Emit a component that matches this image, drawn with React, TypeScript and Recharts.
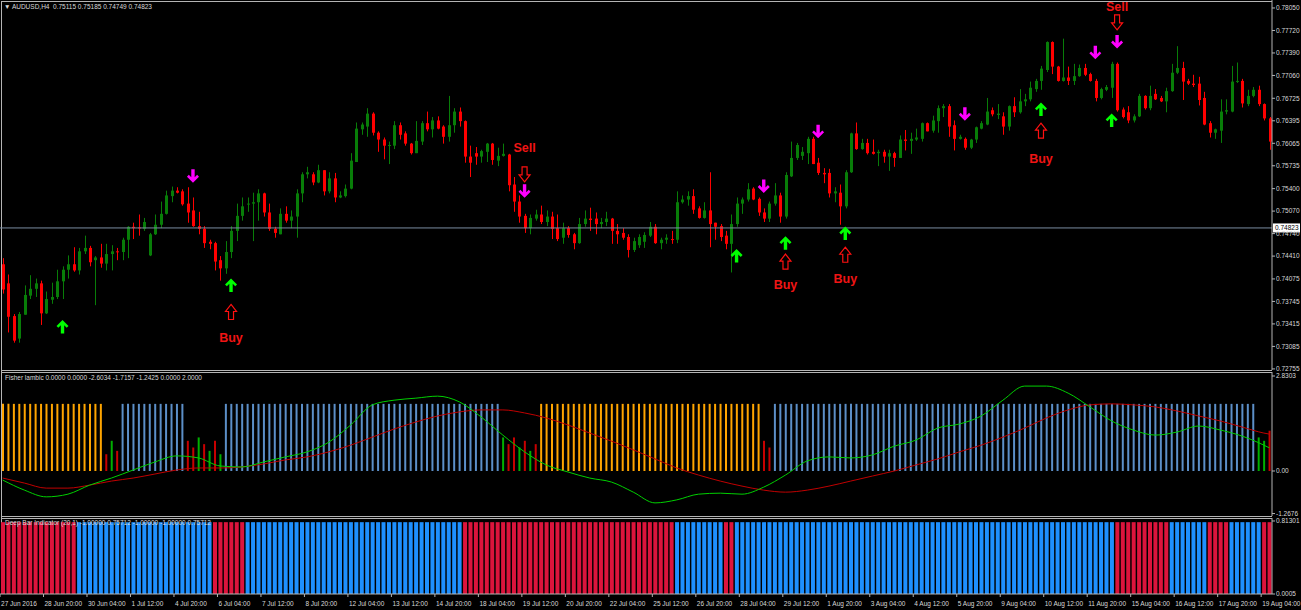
import React from 'react';
import { ComposedChart, Bar, Line, Scatter, XAxis, YAxis, ReferenceLine, Cell } from 'recharts';

const FONT = '"Liberation Sans", Arial, Helvetica, sans-serif';
const FS = 6.5;
const TEXT_COL = '#d8d8d8';
const FRAME = '#b4b4b4';
const W = 1301;
const AXIS_W = 29;
const CANDLE_UP = '#087d08';
const CANDLE_DN = '#ff0000';

// ---------- price candles (AUDUSD H4) ----------
const openP = [
0.7429,0.7401,0.7353,0.7320,0.7355,0.7383,0.7393,0.7401,0.7357,0.7377,
0.7381,0.7404,0.7421,0.7429,0.7420,0.7448,0.7453,0.7435,0.7439,0.7430,
0.7444,0.7448,0.7447,0.7465,0.7484,0.7483,0.7481,0.7442,0.7473,0.7487,
0.7503,0.7529,0.7537,0.7536,0.7518,0.7508,0.7485,0.7481,0.7462,0.7460,
0.7435,0.7423,0.7447,0.7478,0.7500,0.7517,0.7518,0.7520,0.7533,0.7505,
0.7481,0.7473,0.7503,0.7493,0.7499,0.7533,0.7561,0.7561,0.7549,0.7567,
0.7536,0.7555,0.7527,0.7529,0.7540,0.7579,0.7627,0.7631,0.7650,0.7622,
0.7612,0.7603,0.7603,0.7633,0.7621,0.7606,0.7592,0.7609,0.7636,0.7627,
0.7640,0.7631,0.7616,0.7633,0.7653,0.7639,0.7587,0.7592,0.7587,0.7594,
0.7606,0.7581,0.7588,0.7590,0.7546,0.7521,0.7500,0.7482,0.7496,0.7502,
0.7491,0.7499,0.7482,0.7468,0.7482,0.7473,0.7460,0.7488,0.7496,0.7496,
0.7488,0.7491,0.7496,0.7478,0.7475,0.7469,0.7450,0.7457,0.7462,0.7471,
0.7484,0.7460,0.7465,0.7466,0.7465,0.7520,0.7524,0.7529,0.7511,0.7497,
0.7508,0.7490,0.7485,0.7471,0.7459,0.7488,0.7518,0.7524,0.7540,0.7525,
0.7505,0.7496,0.7518,0.7530,0.7499,0.7558,0.7585,0.7588,0.7592,0.7613,
0.7578,0.7563,0.7563,0.7533,0.7534,0.7514,0.7564,0.7621,0.7598,0.7607,
0.7594,0.7592,0.7594,0.7587,0.7592,0.7585,0.7612,0.7610,0.7612,0.7613,
0.7636,0.7625,0.7639,0.7658,0.7661,0.7633,0.7613,0.7613,0.7600,0.7612,
0.7628,0.7634,0.7655,0.7648,0.7646,0.7631,0.7661,0.7652,0.7668,0.7671,
0.7686,0.7698,0.7714,0.7755,0.7719,0.7698,0.7703,0.7698,0.7705,0.7717,
0.7708,0.7698,0.7673,0.7685,0.7688,0.7723,0.7656,0.7652,0.7640,0.7646,
0.7676,0.7658,0.7679,0.7673,0.7668,0.7683,0.7710,0.7717,0.7698,0.7694,
0.7694,0.7673,0.7636,0.7622,0.7625,0.7653,0.7653,0.7697,0.7698,0.7664,
0.7676,0.7685,0.7664,0.7643];

const highP = [
0.7438,0.7414,0.7356,0.7359,0.7398,0.7413,0.7408,0.7405,0.7389,0.7402,
0.7421,0.7426,0.7442,0.7454,0.7453,0.7471,0.7456,0.7441,0.7459,0.7459,
0.7457,0.7453,0.7468,0.7485,0.7490,0.7502,0.7497,0.7475,0.7502,0.7521,
0.7537,0.7543,0.7542,0.7539,0.7542,0.7527,0.7506,0.7485,0.7465,0.7462,
0.7441,0.7463,0.7485,0.7518,0.7527,0.7527,0.7534,0.7539,0.7534,0.7518,
0.7484,0.7511,0.7514,0.7508,0.7539,0.7564,0.7572,0.7564,0.7575,0.7567,
0.7564,0.7563,0.7536,0.7546,0.7592,0.7637,0.7637,0.7658,0.7652,0.7624,
0.7615,0.7609,0.7639,0.7637,0.7624,0.7607,0.7639,0.7639,0.7653,0.7645,
0.7646,0.7633,0.7676,0.7658,0.7659,0.7640,0.7603,0.7601,0.7597,0.7607,
0.7607,0.7600,0.7606,0.7591,0.7557,0.7530,0.7503,0.7502,0.7509,0.7515,
0.7508,0.7506,0.7502,0.7490,0.7485,0.7475,0.7497,0.7508,0.7512,0.7505,
0.7497,0.7506,0.7497,0.7488,0.7482,0.7473,0.7468,0.7473,0.7476,0.7491,
0.7488,0.7468,0.7473,0.7478,0.7536,0.7530,0.7536,0.7539,0.7514,0.7520,
0.7564,0.7490,0.7488,0.7478,0.7502,0.7527,0.7527,0.7548,0.7542,0.7527,
0.7511,0.7521,0.7548,0.7534,0.7564,0.7609,0.7607,0.7601,0.7616,0.7616,
0.7585,0.7570,0.7569,0.7542,0.7546,0.7567,0.7622,0.7637,0.7613,0.7613,
0.7612,0.7597,0.7597,0.7597,0.7594,0.7618,0.7626,0.7622,0.7628,0.7637,
0.7637,0.7647,0.7662,0.7664,0.7664,0.7640,0.7619,0.7615,0.7613,0.7631,
0.7639,0.7673,0.7659,0.7664,0.7652,0.7662,0.7674,0.7686,0.7679,0.7697,
0.7701,0.7720,0.7756,0.7756,0.7720,0.7760,0.7719,0.7723,0.7722,0.7723,
0.7710,0.7701,0.7688,0.7692,0.7726,0.7725,0.7659,0.7661,0.7649,0.7679,
0.7677,0.7691,0.7686,0.7676,0.7688,0.7723,0.7749,0.7726,0.7701,0.7707,
0.7704,0.7682,0.7639,0.7628,0.7671,0.7671,0.7720,0.7725,0.7701,0.7685,
0.7689,0.7691,0.7665,0.7645];

const lowP = [
0.7386,0.7329,0.7314,0.7314,0.7355,0.7378,0.7381,0.7340,0.7356,0.7371,
0.7378,0.7378,0.7408,0.7418,0.7414,0.7444,0.7426,0.7369,0.7424,0.7420,
0.7420,0.7435,0.7435,0.7438,0.7466,0.7471,0.7478,0.7441,0.7472,0.7482,
0.7502,0.7520,0.7533,0.7515,0.7490,0.7484,0.7473,0.7453,0.7451,0.7420,
0.7405,0.7415,0.7438,0.7463,0.7493,0.7506,0.7463,0.7493,0.7499,0.7478,
0.7468,0.7473,0.7490,0.7482,0.7468,0.7520,0.7555,0.7545,0.7548,0.7530,
0.7533,0.7520,0.7526,0.7527,0.7539,0.7579,0.7619,0.7616,0.7618,0.7594,
0.7583,0.7576,0.7598,0.7612,0.7603,0.7590,0.7592,0.7604,0.7624,0.7615,
0.7627,0.7606,0.7609,0.7622,0.7631,0.7578,0.7557,0.7575,0.7578,0.7579,
0.7575,0.7573,0.7587,0.7536,0.7506,0.7490,0.7475,0.7473,0.7493,0.7488,
0.7485,0.7466,0.7463,0.7459,0.7468,0.7451,0.7459,0.7484,0.7478,0.7473,
0.7482,0.7485,0.7459,0.7459,0.7465,0.7439,0.7447,0.7453,0.7453,0.7469,
0.7459,0.7451,0.7459,0.7459,0.7460,0.7518,0.7515,0.7503,0.7496,0.7496,
0.7454,0.7465,0.7463,0.7451,0.7417,0.7484,0.7503,0.7521,0.7523,0.7500,
0.7491,0.7491,0.7515,0.7490,0.7496,0.7557,0.7582,0.7582,0.7576,0.7576,
0.7560,0.7548,0.7527,0.7520,0.7487,0.7511,0.7563,0.7597,0.7597,0.7590,
0.7590,0.7573,0.7578,0.7566,0.7572,0.7585,0.7596,0.7591,0.7610,0.7609,
0.7624,0.7622,0.7622,0.7645,0.7616,0.7596,0.7612,0.7597,0.7598,0.7607,
0.7627,0.7633,0.7646,0.7642,0.7619,0.7625,0.7645,0.7650,0.7661,0.7668,
0.7682,0.7685,0.7711,0.7708,0.7697,0.7697,0.7692,0.7692,0.7704,0.7705,
0.7697,0.7668,0.7671,0.7683,0.7673,0.7653,0.7643,0.7636,0.7637,0.7645,
0.7656,0.7655,0.7670,0.7667,0.7652,0.7682,0.7708,0.7670,0.7692,0.7689,
0.7662,0.7633,0.7615,0.7613,0.7607,0.7649,0.7652,0.7695,0.7659,0.7661,
0.7674,0.7661,0.7640,0.7597];

const closeP = [
0.7392,0.7352,0.7317,0.7356,0.7384,0.7393,0.7401,0.7357,0.7378,0.7381,
0.7404,0.7421,0.7429,0.7420,0.7448,0.7453,0.7432,0.7439,0.7430,0.7444,
0.7448,0.7447,0.7465,0.7484,0.7482,0.7482,0.7491,0.7473,0.7487,0.7503,
0.7530,0.7537,0.7534,0.7517,0.7505,0.7485,0.7481,0.7460,0.7459,0.7433,
0.7423,0.7447,0.7478,0.7500,0.7514,0.7518,0.7520,0.7533,0.7505,0.7481,
0.7475,0.7503,0.7493,0.7499,0.7533,0.7561,0.7564,0.7549,0.7567,0.7536,
0.7555,0.7527,0.7530,0.7540,0.7581,0.7628,0.7634,0.7650,0.7622,0.7612,
0.7603,0.7604,0.7633,0.7619,0.7606,0.7592,0.7610,0.7636,0.7627,0.7640,
0.7628,0.7616,0.7633,0.7653,0.7639,0.7587,0.7578,0.7587,0.7595,0.7606,
0.7582,0.7588,0.7591,0.7545,0.7521,0.7499,0.7482,0.7497,0.7502,0.7491,
0.7499,0.7481,0.7466,0.7482,0.7472,0.7460,0.7488,0.7496,0.7494,0.7488,
0.7491,0.7496,0.7478,0.7473,0.7468,0.7450,0.7463,0.7469,0.7472,0.7484,
0.7460,0.7465,0.7468,0.7465,0.7520,0.7524,0.7529,0.7509,0.7497,0.7508,
0.7488,0.7484,0.7469,0.7459,0.7488,0.7518,0.7524,0.7539,0.7524,0.7505,
0.7496,0.7518,0.7530,0.7499,0.7560,0.7585,0.7604,0.7594,0.7613,0.7576,
0.7563,0.7561,0.7533,0.7536,0.7514,0.7564,0.7621,0.7598,0.7607,0.7592,
0.7591,0.7594,0.7587,0.7592,0.7585,0.7612,0.7610,0.7613,0.7615,0.7636,
0.7624,0.7640,0.7658,0.7661,0.7631,0.7613,0.7616,0.7600,0.7612,0.7630,
0.7636,0.7653,0.7649,0.7650,0.7631,0.7661,0.7652,0.7668,0.7671,0.7688,
0.7698,0.7716,0.7755,0.7719,0.7698,0.7703,0.7698,0.7705,0.7717,0.7707,
0.7698,0.7673,0.7686,0.7689,0.7723,0.7655,0.7645,0.7640,0.7646,0.7676,
0.7658,0.7676,0.7671,0.7668,0.7683,0.7710,0.7717,0.7697,0.7694,0.7692,
0.7670,0.7634,0.7622,0.7627,0.7653,0.7655,0.7697,0.7698,0.7665,0.7676,
0.7685,0.7664,0.7643,0.7609];

const priceTicks = [0.78050,0.77720,0.77390,0.77060,0.76725,0.76395,0.76065,0.75735,0.75400,0.75070,0.74740,0.74410,0.74075,0.73745,0.73415,0.73085,0.72755];
const bidPrice = 0.74823;

// ---------- signals ----------
const upArrowBars = [11, 42, 135, 144, 155, 191, 204];
const upArrowPrice = [0.7337, 0.7398, 0.7441, 0.7460, 0.7474, 0.7656, 0.7640];
const downArrowBars = [35, 96, 140, 150, 177, 201, 205];
const downArrowPrice = [0.7559, 0.7537, 0.7544, 0.7624, 0.7650, 0.7740, 0.7756];
const buyBars = [42, 144, 155, 191];
const buyArrowPrice = [0.7359, 0.7433, 0.7443, 0.7625];
const buyTextPrice = [0.7322, 0.7399, 0.7408, 0.7584];
const sellBars = [96, 205];
const sellArrowPrice = [0.7561, 0.7784];
const sellTextPrice = [0.7601, 0.7807];

// ---------- time axis ----------
const timeTickBars = [0,8,16,24,32,40,48,56,64,72,80,88,96,104,112,120,128,136,144,152,160,168,176,184,192,200,208,216,224,232];
const timeTickLabels = ['27 Jun 2016','28 Jun 20:00','30 Jun 04:00','1 Jul 12:00','4 Jul 20:00','6 Jul 04:00','7 Jul 12:00','8 Jul 20:00','12 Jul 04:00','13 Jul 12:00','14 Jul 20:00','18 Jul 04:00','19 Jul 12:00','20 Jul 20:00','22 Jul 04:00','25 Jul 12:00','26 Jul 20:00','28 Jul 04:00','29 Jul 12:00','1 Aug 20:00','3 Aug 04:00','4 Aug 12:00','5 Aug 20:00','9 Aug 04:00','10 Aug 12:00','11 Aug 20:00','15 Aug 04:00','16 Aug 12:00','17 Aug 20:00','19 Aug 04:00'];

// ---------- Fisher panel ----------
const fisherHist = [
2,2,2,2,2,2,2,2,2,2,2,2,2,2,2,2,2,2,2,
0.5,0.9,0.6,
2,2,2,2,2,2,2,2,2,2,2,2,
0.9,0.7,1.0,0.8,0.6,0.9,0.5,
2,2,2,2,2,2,2,2,2,2,2,2,2,2,2,2,2,2,2,2,2,2,2,2,2,2,2,2,2,2,2,2,2,2,2,2,2,2,2,2,2,2,2,2,2,2,2,2,2,2,2,
1.0,0.8,1.0,0.7,0.9,0.6,0.8,
2,2,2,2,2,2,2,2,2,2,2,2,2,2,2,2,2,2,2,2,2,2,2,2,2,2,2,2,2,2,2,2,2,2,2,2,2,2,2,2,2,
0.9,0.7,
2,2,2,2,2,2,2,2,2,2,2,2,2,2,2,2,2,2,2,2,2,2,2,2,2,2,2,2,2,2,2,2,2,2,2,2,2,2,2,2,2,2,2,2,2,2,2,2,2,2,2,2,2,2,2,2,2,2,2,2,2,2,2,2,2,2,2,2,2,2,2,2,2,2,2,2,2,2,2,2,2,2,2,2,2,2,2,2,2,
1.0,0.9,1.2];
const fisherHistColor =
  'ooooooooooooooooooo' + 'rgr' + 'bbbbbbbbbbbb' + 'rrgrgrg' +
  'bbbbbbbbbbbbbbbbbbbbbbbbbbbbbbbbbbbbbbbbbbbbbbbbbbb' + 'grrgrgr' +
  'ooooooooooooooooooooooooooooooooooooooooo' + 'rr' +
  'bbbbbbbbbbbbbbbbbbbbbbbbbbbbbbbbbbbbbbbbbbbbbbbbbbbbbbbbbbbbbbbbbbbbbbbbbbbbbbbbbbbbbbbbb' + 'ggr';
const fisherLineBars = [0,4,8,12,16,20,24,28,32,36,40,44,48,52,56,60,64,68,72,76,80,84,88,92,96,100,104,108,112,116,120,124,128,132,136,140,144,148,152,156,160,164,168,172,176,180,184,188,192,196,200,204,208,212,216,220,224,228,232,233];
const fisherGreen = [-0.27,-0.57,-0.77,-0.69,-0.42,-0.21,0.03,0.27,0.45,0.39,0.15,0.12,0.27,0.42,0.57,0.86,1.37,1.97,2.11,2.17,2.23,2.06,1.61,1.07,0.57,0.18,-0.03,-0.21,-0.33,-0.63,-0.95,-0.86,-0.69,-0.66,-0.69,-0.48,-0.12,0.30,0.42,0.39,0.48,0.74,0.92,1.28,1.40,1.64,2.11,2.53,2.53,2.32,1.91,1.49,1.22,1.07,1.16,1.34,1.22,1.04,0.77,0.69];
const fisherRed = [-0.21,-0.36,-0.51,-0.51,-0.42,-0.30,-0.21,-0.09,0.03,0.09,0.09,0.12,0.21,0.33,0.42,0.57,0.77,1.01,1.25,1.46,1.64,1.76,1.82,1.82,1.73,1.58,1.37,1.13,0.89,0.63,0.36,0.09,-0.12,-0.30,-0.45,-0.57,-0.63,-0.57,-0.45,-0.30,-0.15,0.00,0.18,0.36,0.57,0.77,1.01,1.28,1.58,1.82,1.97,2.00,1.97,1.91,1.79,1.64,1.49,1.31,1.13,1.10];
const fisherTicks = [2.8303, 0, -1.2676];

// ---------- Deep Bar panel ----------
const deepVals = [
0.8,0.8,0.8,0.8,0.8,0.8,0.8,0.8,0.8,0.8,0.8,0.8,0.8,0.8,0.8,0.8,0.8,0.8,0.8,0.8,
0.8,0.8,0.8,0.8,0.8,0.8,0.8,0.8,0.8,0.8,0.8,0.8,0.8,0.8,0.8,0.8,0.8,0.8,0.8,0.8,
0.8,0.8,0.8,0.8,0.8,0.8,0.8,0.8,0.8,0.8,0.8,0.8,0.8,0.8,0.8,0.8,0.8,0.8,0.8,0.8,
0.8,0.8,0.8,0.8,0.8,0.8,0.8,0.8,0.8,0.8,0.8,0.8,0.8,0.8,0.8,0.8,0.8,0.8,0.8,0.8,
0.8,0.8,0.8,0.8,0.8,0.8,0.8,0.8,0.8,0.8,0.8,0.8,0.8,0.8,0.8,0.8,0.8,0.8,0.8,0.8,
0.8,0.8,0.8,0.8,0.8,0.8,0.8,0.8,0.8,0.8,0.8,0.8,0.8,0.8,0.8,0.8,0.8,0.8,0.8,0.8,
0.8,0.8,0.8,0.8,0.8,0.8,0.8,0.8,0.8,0.8,0.8,0.8,0.8,0.8,0.8,0.8,0.8,0.8,0.8,0.8,
0.8,0.8,0.8,0.8,0.8,0.8,0.8,0.8,0.8,0.8,0.8,0.8,0.8,0.8,0.8,0.8,0.8,0.8,0.8,0.8,
0.8,0.8,0.8,0.8,0.8,0.8,0.8,0.8,0.8,0.8,0.8,0.8,0.8,0.8,0.8,0.8,0.8,0.8,0.8,0.8,
0.8,0.8,0.8,0.8,0.8,0.8,0.8,0.8,0.8,0.8,0.8,0.8,0.8,0.8,0.8,0.8,0.8,0.8,0.8,0.8,
0.8,0.8,0.8,0.8,0.8,0.8,0.8,0.8,0.8,0.8,0.8,0.8,0.8,0.8,0.8,0.8,0.8,0.8,0.8,0.8,
0.8,0.8,0.8,0.8,0.8,0.8,0.8,0.8,0.8,0.8,0.8,0.8,0.8,0.8];
const deepColor =
  'rrrrrrrrrrrrrr' + 'bbbbbbbbbbbbbbbbbbbbbbbbb' + 'rrrrrr' +
  'bbbbbbbbbbbbbbbbbbbbbbbbbbbbbbbbbbbbbbbb' +
  'rrrrrrrrrrrrrrrrrrrrrrrrrrrrrrrrrrrrrrr' + 'bbbbbbbbb' + 'rr' +
  'bbbbbbbbbbbbbbbbbbbbbbbbbbbbbbbbbbbbbbbbbbbbbbbbbbbbbbbbbbbbbbbbbbbbbb' +
  'rrrrrrrrrr' + 'bbbbbbb' + 'rrrr' + 'bbbbbb' + 'rr';

const HIST_COLORS: Record<string, string> = { o: '#ffa500', b: '#5c8fc8', r: '#c80000', g: '#00b000' };
const DEEP_COLORS: Record<string, string> = { r: '#dc143c', b: '#1e90ff' };

type Row = any;
const rows: Row[] = openP.map((o, i) => ({
  i,
  o, h: highP[i], l: lowP[i], c: closeP[i],
  hl: [lowP[i], highP[i]],
  up: null, dn: null, buyA: null, buyT: null, sellA: null, sellT: null,
  hist: fisherHist[i], hc: fisherHistColor[i],
  fg: null, fr: null,
  deep: deepVals[i], dc: deepColor[i],
}));
upArrowBars.forEach((b, k) => { rows[b].up = upArrowPrice[k]; });
downArrowBars.forEach((b, k) => { rows[b].dn = downArrowPrice[k]; });
buyBars.forEach((b, k) => { rows[b].buyA = buyArrowPrice[k]; rows[b].buyT = buyTextPrice[k]; });
sellBars.forEach((b, k) => { rows[b].sellA = sellArrowPrice[k]; rows[b].sellT = sellTextPrice[k]; });
fisherLineBars.forEach((b, k) => { rows[b].fg = fisherGreen[k]; rows[b].fr = fisherRed[k]; });

const ok = (v: any) => typeof v === 'number' && isFinite(v);

const Candle = (props: any) => {
  const { x, y, width, height, payload } = props;
  if (!payload || !ok(x) || !ok(y) || !ok(height)) return <g />;
  const { o, h, l, c } = payload;
  const top = Math.min(y, y + height);
  const bot = Math.max(y, y + height);
  const span = h - l;
  const yOf = (v: number) => (span > 0 ? top + ((h - v) / span) * (bot - top) : top);
  const col = c >= o ? CANDLE_UP : CANDLE_DN;
  const cx = Math.round(x + width / 2) + 0.5;
  const bt = yOf(Math.max(o, c));
  const bb = yOf(Math.min(o, c));
  return (
    <g>
      <line x1={cx} x2={cx} y1={top} y2={bot} stroke={col} strokeWidth={1} />
      <rect x={cx - 1.5} y={bt} width={3} height={Math.max(1, bb - bt)} fill={col} />
    </g>
  );
};

const UpArrow = (p: any) => {
  if (!ok(p.cx) || !ok(p.cy)) return <g />;
  return <polygon transform={`translate(${p.cx},${p.cy})`} points="0,-7 6,-1 4.2,0.8 1.7,-1.7 1.7,6.5 -1.7,6.5 -1.7,-1.7 -4.2,0.8 -6,-1" fill="#00ff00" />;
};
const DownArrow = (p: any) => {
  if (!ok(p.cx) || !ok(p.cy)) return <g />;
  return <polygon transform={`translate(${p.cx},${p.cy})`} points="0,7 6,1 4.2,-0.8 1.7,1.7 1.7,-6.5 -1.7,-6.5 -1.7,1.7 -4.2,-0.8 -6,1" fill="#ff00ff" />;
};
const HollowUp = (p: any) => {
  if (!ok(p.cx) || !ok(p.cy)) return <g />;
  return <polygon transform={`translate(${p.cx},${p.cy})`} points="0,-7.5 5.5,-0.5 2.5,-0.5 2.5,7.5 -2.5,7.5 -2.5,-0.5 -5.5,-0.5" fill="none" stroke="#ff1010" strokeWidth={1.2} />;
};
const HollowDown = (p: any) => {
  if (!ok(p.cx) || !ok(p.cy)) return <g />;
  return <polygon transform={`translate(${p.cx},${p.cy})`} points="0,7.5 5.5,0.5 2.5,0.5 2.5,-7.5 -2.5,-7.5 -2.5,0.5 -5.5,0.5" fill="none" stroke="#ff1010" strokeWidth={1.2} />;
};
const makeLabel = (txt: string) => (p: any) => {
  if (!ok(p.cx) || !ok(p.cy)) return <g />;
  return (
    <text x={p.cx} y={p.cy} dy="0.36em" textAnchor="middle" fill="#f01414" fontFamily={FONT} fontWeight="bold" fontSize={12.5}>{txt}</text>
  );
};
const BuyText = makeLabel('Buy');
const SellText = makeLabel('Sell');

const BidTag = (p: any) => {
  const vb = p.viewBox || {};
  if (!ok(vb.y)) return <g />;
  const x0 = vb.x + vb.width + 1;
  return (
    <g>
      <rect x={x0} y={vb.y - 4.5} width={27} height={9} fill="#ffffff" />
      <text x={x0 + 2} y={vb.y} dy="0.36em" fill="#000" fontFamily={FONT} fontSize={FS}>{bidPrice.toFixed(5)}</text>
    </g>
  );
};

const tickStyle = { fill: TEXT_COL, fontSize: FS, fontFamily: FONT };

const TimeTick = (p: any) => {
  const idx = timeTickBars.indexOf(p.payload.value);
  const label = idx >= 0 ? timeTickLabels[idx] : '';
  const x = p.x - 2.7;
  return (
    <g>
      <line x1={x} x2={x} y1={p.y - 4} y2={p.y - 1} stroke={FRAME} />
      <text x={x + 1} y={p.y + 7.5} fill={TEXT_COL} fontSize={FS} fontFamily={FONT} textAnchor="start">{label}</text>
    </g>
  );
};

const hline = (top: number) => (
  <div style={{ position: 'absolute', left: 1, top, width: 1271, height: 1, background: FRAME }} />
);

export default function App() {
  return (
    <div style={{ position: 'absolute', left: 0, top: 0, width: W, height: 610, background: '#000', overflow: 'hidden', fontFamily: FONT }}>
      {/* frame lines */}
      <div style={{ position: 'absolute', left: 1, top: 1, width: 1, height: 593, background: FRAME }} />
      {hline(1)}
      {hline(370)}
      {hline(372)}
      {hline(516)}
      {hline(518)}

      {/* Deep Bar panel */}
      <div style={{ position: 'absolute', left: 0, top: 518 }}>
        <ComposedChart width={W} height={92} data={rows} margin={{ top: 0, right: 0, bottom: 0, left: 0 }}>
          <XAxis dataKey="i" type="category" height={16} ticks={timeTickBars} interval={0} tick={<TimeTick />}
            axisLine={{ stroke: FRAME }} tickLine={false} tickSize={4} tickMargin={0} />
          <YAxis orientation="right" width={AXIS_W} domain={[0, 0.8464]} allowDataOverflow ticks={[0.81301, 0]} interval={0}
            tickFormatter={(v: number) => (v === 0 ? '0.0005' : v.toFixed(5))} tick={tickStyle} tickSize={3} tickMargin={1}
            axisLine={{ stroke: FRAME }} tickLine={{ stroke: FRAME }} />
          <Bar dataKey="deep" barSize={4} isAnimationActive={false}>
            {rows.map((r, k) => <Cell key={k} fill={DEEP_COLORS[r.dc]} />)}
          </Bar>
        </ComposedChart>
      </div>

      {/* Fisher panel */}
      <div style={{ position: 'absolute', left: 0, top: 372 }}>
        <ComposedChart width={W} height={144} data={rows} margin={{ top: 0, right: 0, bottom: 0, left: 0 }}>
          <XAxis dataKey="i" type="category" hide />
          <YAxis orientation="right" width={AXIS_W} domain={[-1.3405, 2.9495]} allowDataOverflow ticks={fisherTicks} interval={0}
            tickFormatter={(v: number) => (v === 0 ? '0.00' : v.toFixed(4))} tick={tickStyle} tickSize={3} tickMargin={1}
            axisLine={{ stroke: FRAME }} tickLine={{ stroke: FRAME }} />
          <Bar dataKey="hist" barSize={2} isAnimationActive={false}>
            {rows.map((r, k) => <Cell key={k} fill={HIST_COLORS[r.hc]} />)}
          </Bar>
          <Line dataKey="fr" type="monotone" stroke="#c00000" strokeWidth={1} dot={false} connectNulls isAnimationActive={false} />
          <Line dataKey="fg" type="monotone" stroke="#00d000" strokeWidth={1} dot={false} connectNulls isAnimationActive={false} />
        </ComposedChart>
      </div>

      {/* main price panel (svg taller than its plot so the lowest price label is not clipped) */}
      <div style={{ position: 'absolute', left: 0, top: 0 }}>
        <ComposedChart width={W} height={376} data={rows} margin={{ top: 0, right: 0, bottom: 6, left: 0 }}>
          <XAxis dataKey="i" type="category" hide />
          <YAxis orientation="right" width={AXIS_W} domain={[0.72739, 0.78167]} allowDataOverflow ticks={priceTicks} interval={0}
            tickFormatter={(v: number) => v.toFixed(5)} tick={tickStyle} tickSize={3} tickMargin={1}
            axisLine={{ stroke: FRAME }} tickLine={{ stroke: FRAME }} />
          <ReferenceLine y={bidPrice} stroke="#7a8ca0" strokeWidth={1} label={<BidTag />} />
          <Bar dataKey="hl" shape={<Candle />} isAnimationActive={false} barSize={4} />
          <Scatter dataKey="up" shape={<UpArrow />} isAnimationActive={false} />
          <Scatter dataKey="dn" shape={<DownArrow />} isAnimationActive={false} />
          <Scatter dataKey="buyA" shape={<HollowUp />} isAnimationActive={false} />
          <Scatter dataKey="buyT" shape={<BuyText />} isAnimationActive={false} />
          <Scatter dataKey="sellA" shape={<HollowDown />} isAnimationActive={false} />
          <Scatter dataKey="sellT" shape={<SellText />} isAnimationActive={false} />
        </ComposedChart>
      </div>

      {/* panel captions */}
      <div style={{ position: 'absolute', left: 4, top: 3, color: TEXT_COL, fontSize: FS, whiteSpace: 'pre', lineHeight: '8px' }}>
        {'\u25BC AUDUSD,H4  0.75115 0.75185 0.74749 0.74823'}
      </div>
      <div style={{ position: 'absolute', left: 5, top: 374, color: TEXT_COL, fontSize: FS, whiteSpace: 'pre', lineHeight: '8px' }}>
        {'Fisher lambic 0.0000 0.0000 -2.6034 -1.7157 -1.2425 0.0000 2.0000'}
      </div>
      <div style={{ position: 'absolute', left: 5, top: 519, color: TEXT_COL, fontSize: FS, whiteSpace: 'pre', lineHeight: '8px' }}>
        {'Deep Bar Indicator (20,1) -1.00000 0.75712 -1.00000 -1.00000 0.75712'}
      </div>
    </div>
  );
}
